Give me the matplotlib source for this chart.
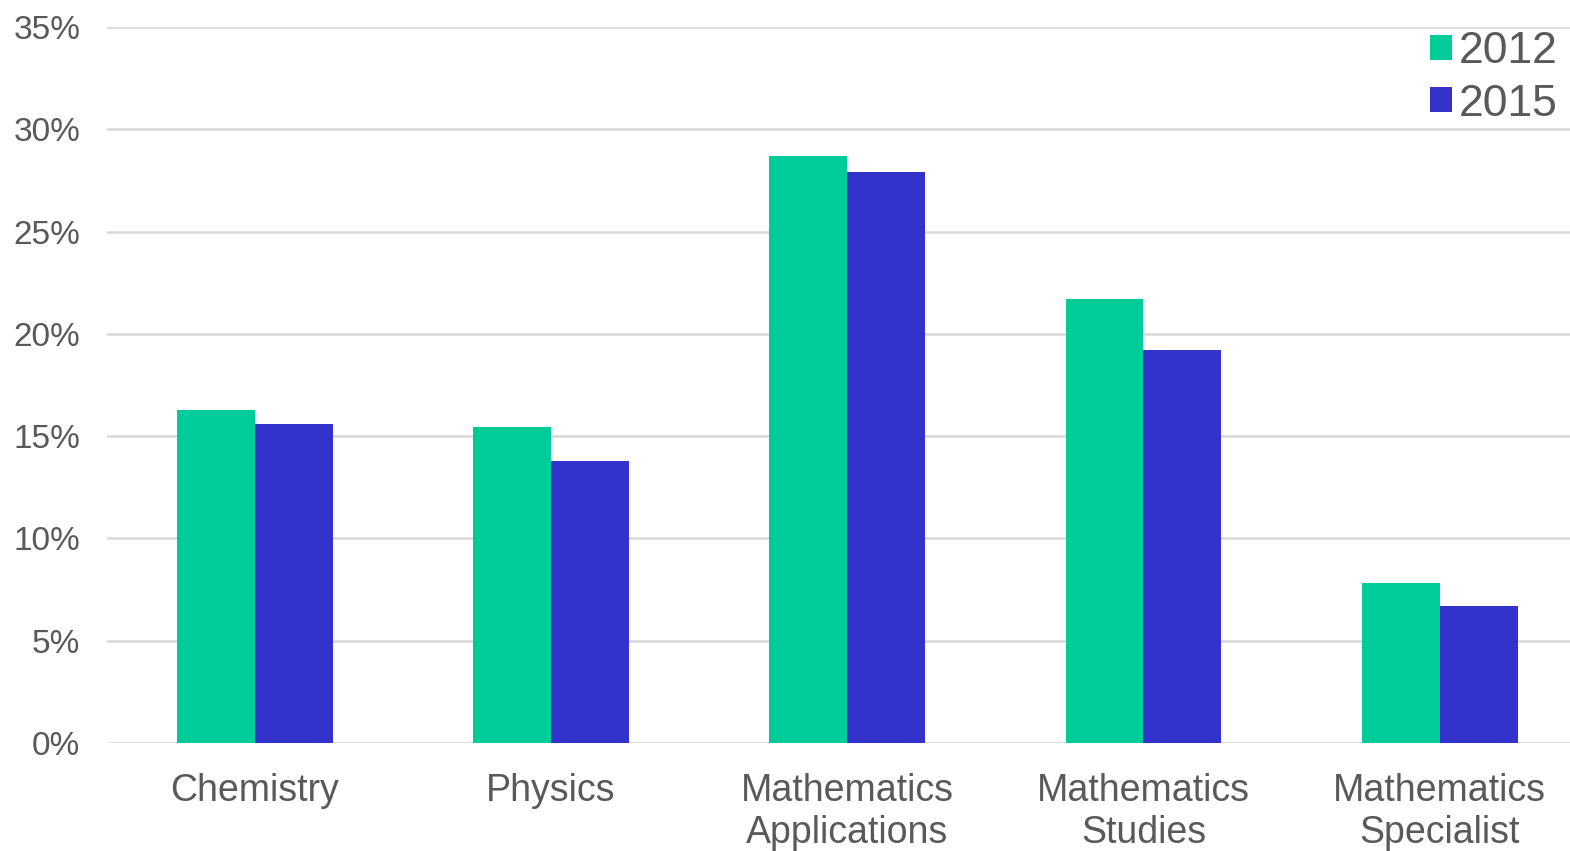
import numpy as np
import matplotlib.pyplot as plt
from matplotlib.ticker import FuncFormatter

plt.rcParams['font.family'] = ['Liberation Sans', 'DejaVu Sans']

subjects = ["Chemistry", "Physics", "Mathematics\nApplications",
            "Mathematics\nStudies", "Mathematics\nSpecialist"]
share_2012 = [16.3, 15.45, 28.7, 21.7, 7.8]
share_2015 = [15.6, 13.8, 27.9, 19.2, 6.7]

green = "#00CC99"
blue = "#3333CC"
grey_text = "#595959"

fig = plt.figure(figsize=(15.70, 8.51), dpi=100)
ax = fig.add_axes([0.068, 0.127, 0.932, 0.841])

x = np.arange(len(subjects))
w = 0.263
ax.bar(x - w / 2, share_2012, width=w, color=green, label="2012", zorder=3)
ax.bar(x + w / 2, share_2015, width=w, color=blue, label="2015", zorder=3)

ax.set_ylim(0, 35)
ax.set_xlim(-0.5, 4.44)
ax.set_yticks(np.arange(0, 36, 5))
ax.yaxis.set_major_formatter(FuncFormatter(lambda v, _: f"{v:.0f}%"))
ax.set_xticks(x)
ax.set_xticklabels(subjects, linespacing=1.18)

ax.grid(axis="y", color="#d9d9d9", linewidth=1.8, zorder=0)
for s in ax.spines.values():
    s.set_visible(False)
ax.tick_params(axis="y", length=0, pad=19, labelsize=24, labelcolor=grey_text)
ax.tick_params(axis="x", length=0, pad=22, labelsize=27, labelcolor=grey_text)

leg = ax.legend(loc="upper right", bbox_to_anchor=(0.992, 0.9636),
                bbox_transform=fig.transFigure, frameon=False,
                fontsize=32, handlelength=0.5, handleheight=0.5,
                handletextpad=0.15, labelspacing=0.26, borderpad=0,
                borderaxespad=0)
for t in leg.get_texts():
    t.set_color(grey_text)

fig.savefig("out.png", dpi=100)
